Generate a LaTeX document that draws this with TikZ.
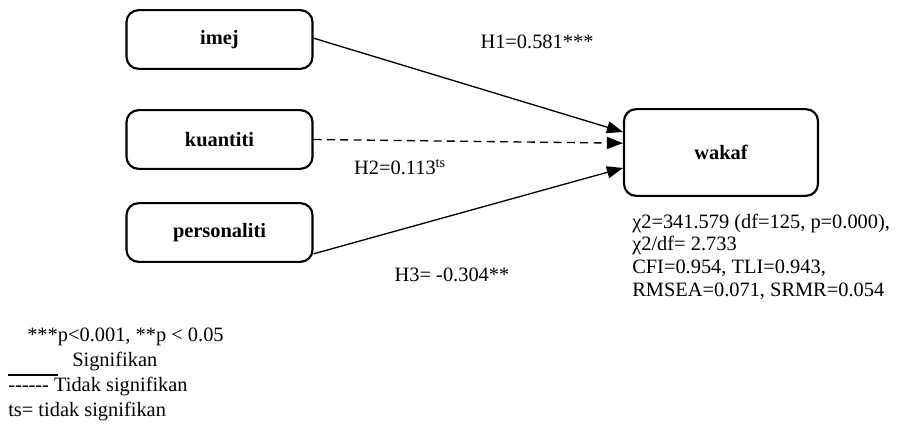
\documentclass[tikz,border=0pt]{standalone}
\usepackage{fontspec}
\setmainfont{Liberation Serif}
\usetikzlibrary{arrows.meta}
\newcommand{\figfont}{\fontsize{15.3}{17}\selectfont}

\begin{document}
\begin{tikzpicture}[x=0.75pt,y=-0.75pt,font=\figfont,
  varbox/.style={draw, line width=1.6pt, rounded corners=9pt, inner sep=0pt,
    minimum width=139.5pt, minimum height=44pt, font=\figfont\bfseries},
  sigarrow/.style={line width=1pt, -{Triangle[length=12pt,width=9pt]}},
  nsigarrow/.style={sigarrow, dash pattern=on 6pt off 4pt},
  lbl/.style={inner sep=0pt}]
\useasboundingbox (0,0) rectangle (902,424);
% variables
\node[varbox] (imej) at (219.5,39.5) {imej};
\node[varbox] (kuantiti) at (219.5,139.5) {kuantiti};
\node[varbox] (personaliti) at (219.5,232.5) {personaliti};
\node[varbox, minimum width=145.5pt, minimum height=65pt] (wakaf) at (721,152.5) {wakaf};
% paths
\draw[sigarrow] ([yshift=1pt]imej.east) -- ([yshift=15.4pt]wakaf.west);
\draw[nsigarrow] (kuantiti.east) -- ([yshift=7pt]wakaf.west);
\draw[sigarrow] ([yshift=-16pt]personaliti.east) -- ([yshift=-11.6pt]wakaf.west);
\node[lbl] (h1) at (537,42) {H1=0.581***};
\node[lbl] (h2) at (400,167) {H2=0.113\textsuperscript{ts}};
\node[lbl] (h3) at (452,275) {H3= -0.304**};
% model fit
\node[lbl, anchor=base west] (fit1) at (632,228) {χ2=341.579 (df=125, p=0.000),};
\node[lbl, anchor=base west] (fit2) at (632,250.7) {χ2/df= 2.733};
\node[lbl, anchor=base west] (fit3) at (632,273.3) {CFI=0.954, TLI=0.943,};
\node[lbl, anchor=base west] (fit4) at (632,296) {RMSEA=0.071, SRMR=0.054};
% legend
\node[lbl, anchor=base west] (pval) at (27,341) {***p<0.001, **p < 0.05};
\node[lbl, anchor=base west] (legsig) at (72,366) {Signifikan};
\coordinate (sigL) at (8,375);
\coordinate (sigR) at (58,375);
\draw[line width=1.2pt] (sigL) -- (sigR);
\node[lbl, anchor=base west] (legnsig) at (8,391) {-\kern0pt-\kern0pt-\kern0pt-\kern0pt-\kern0pt- Tidak signifikan};
\node[lbl, anchor=base west] (legts) at (8,416) {ts= tidak signifikan};
\end{tikzpicture}
\end{document}
